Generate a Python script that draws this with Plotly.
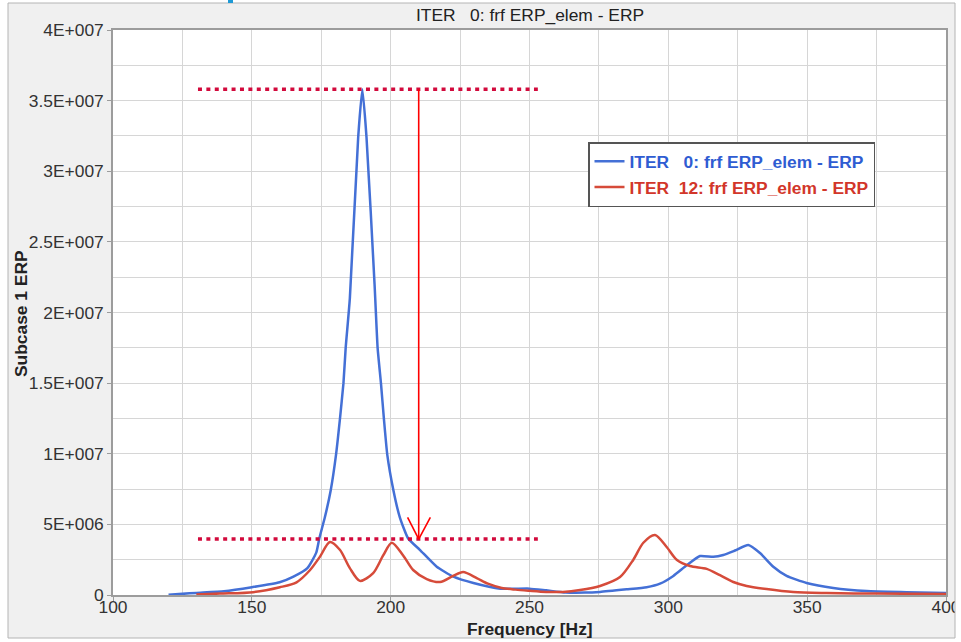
import plotly.graph_objects as go

# ---------------- data ----------------
freq_iter0 = [120, 125, 130, 140, 150, 160, 165, 170, 173.2, 174.3, 176.3, 178.4, 180.3, 181.7,
              183, 183.8, 185.3, 188.3, 189.8, 191.3, 194.2, 195.3, 196.5, 197.6, 198.8, 201,
              203.3, 206.3, 210.5, 216.6, 222.6, 229.8, 239.5, 250, 256, 263, 270, 275.4, 285,
              292.2, 297, 301.8, 306.6, 311.4, 316.2, 319.8, 324, 328.8, 333, 337.8, 342.6,
              349.8, 359.4, 371.4, 385.8, 400]
erp_iter0 = [0.02e6, 0.08e6, 0.15e6, 0.27e6, 0.55e6, 0.9e6, 1.3e6, 1.9e6, 3.0e6, 4.0e6, 5.5e6,
             7.4e6, 9.9e6, 12.4e6, 15.0e6, 17.5e6, 21.0e6, 32.4e6, 35.8e6, 32.4e6, 22.0e6,
             17.5e6, 15.0e6, 12.4e6, 9.9e6, 7.4e6, 5.5e6, 4.0e6, 3.2e6, 2.0e6, 1.3e6, 0.85e6,
             0.45e6, 0.45e6, 0.33e6, 0.18e6, 0.17e6, 0.22e6, 0.4e6, 0.55e6, 0.8e6, 1.35e6,
             2.1e6, 2.76e6, 2.7e6, 2.83e6, 3.15e6, 3.54e6, 2.97e6, 2.0e6, 1.35e6, 0.85e6,
             0.5e6, 0.28e6, 0.2e6, 0.14e6]

freq_iter12 = [130, 138.5, 150.5, 160.1, 166.1, 170.9, 174.5, 178.1, 181.7, 185.3, 188.9, 193.7,
               197.3, 200.4, 204.5, 208.1, 213, 217.8, 222.5, 226.1, 231, 235, 240, 245, 250,
               256, 262, 268.2, 275.4, 282.6, 287.4, 291, 295.2, 299.4, 303, 307.8, 313.8,
               318.6, 323.4, 328.2, 335.4, 345, 357, 375, 400]
erp_iter12 = [0.03e6, 0.1e6, 0.2e6, 0.55e6, 0.9e6, 1.75e6, 2.7e6, 3.75e6, 3.2e6, 1.9e6, 1.0e6,
              1.55e6, 2.8e6, 3.7e6, 2.8e6, 1.77e6, 1.13e6, 0.92e6, 1.35e6, 1.63e6, 1.2e6,
              0.8e6, 0.5e6, 0.38e6, 0.3e6, 0.22e6, 0.22e6, 0.35e6, 0.64e6, 1.27e6, 2.5e6,
              3.7e6, 4.25e6, 3.4e6, 2.5e6, 2.05e6, 1.85e6, 1.4e6, 0.92e6, 0.64e6, 0.42e6,
              0.21e6, 0.14e6, 0.1e6, 0.07e6]

series_names = ["ITER\u00a0\u00a0\u00a00: frf ERP_elem - ERP",
                "ITER\u00a0\u00a012: frf ERP_elem - ERP"]

x_ticks = [100, 150, 200, 250, 300, 350, 400]
x_ticklabels = ["100", "150", "200", "250", "300", "350", "400"]
y_ticks = [0, 5e6, 10e6, 15e6, 20e6, 25e6, 30e6, 35e6, 40e6]
y_ticklabels = ["0", "5E+006", "1E+007", "1.5E+007", "2E+007", "2.5E+007", "3E+007",
                "3.5E+007", "4E+007"]

# annotation markers (peak level, reduced level, arrow position)
peak_level = 3.58e7
reduced_level = 3.96e6
ref_line_x = [130.6, 253]
arrow_x = 210.1

# ---------------- layout geometry ----------------
W, H = 961, 642
L, R, T, B = 113, 15, 30, 47
PW, PH = W - L - R, H - T - B


def px(x):
    return (x - L) / PW


def py(y):
    return (H - B - y) / PH


FONT = "Arial, 'Liberation Sans', sans-serif"
FS = 17.4
BLUE = "#4470d6"
RED = "#d64b3a"

fig = go.Figure()
fig.add_trace(go.Scatter(
    x=freq_iter0, y=erp_iter0, mode="lines",
    line=dict(color=BLUE, width=2.5, shape="spline", smoothing=0.5),
    name="<span style='color:#2f5cd2'>" + series_names[0] + "</span>"))
fig.add_trace(go.Scatter(
    x=freq_iter12, y=erp_iter12, mode="lines",
    line=dict(color=RED, width=2.5, shape="spline", smoothing=0.8),
    name="<span style='color:#d2362a'>" + series_names[1] + "</span>"))

shapes = []
# outer white margins and panel border
shapes += [
    dict(type="rect", xref="paper", yref="paper", x0=px(0), x1=px(8), y0=py(H), y1=py(0),
         fillcolor="white", line_width=0),
    dict(type="rect", xref="paper", yref="paper", x0=px(955), x1=px(W), y0=py(H), y1=py(0),
         fillcolor="white", line_width=0),
    dict(type="rect", xref="paper", yref="paper", x0=px(0), x1=px(W), y0=py(3), y1=py(0),
         fillcolor="white", line_width=0),
    dict(type="rect", xref="paper", yref="paper", x0=px(0), x1=px(W), y0=py(H), y1=py(638),
         fillcolor="white", line_width=0),
    dict(type="rect", xref="paper", yref="paper", x0=px(8), x1=px(955), y0=py(638), y1=py(3),
         fillcolor="rgba(0,0,0,0)", line=dict(color="#b4b4b4", width=1)),
    dict(type="rect", xref="paper", yref="paper", x0=px(228), x1=px(233), y0=py(3), y1=py(0),
         fillcolor="#1e9ad6", line_width=0),
]
# dotted reference lines
for lvl in (peak_level, reduced_level):
    shapes.append(dict(type="line", xref="x", yref="y", x0=ref_line_x[0], x1=ref_line_x[1],
                       y0=lvl, y1=lvl, layer="above",
                       line=dict(color="#d20a3c", width=3.5, dash="4px,4.4px")))
# arrow
shapes.append(dict(type="line", xref="x", yref="y", x0=arrow_x, x1=arrow_x,
                   y0=peak_level, y1=reduced_level, layer="above",
                   line=dict(color="#ff0000", width=1.6)))
shapes.append(dict(type="line", xref="x", yref="y", x0=arrow_x - 4.0, x1=arrow_x,
                   y0=5.5e6, y1=reduced_level, layer="above",
                   line=dict(color="#ff0000", width=1.6)))
shapes.append(dict(type="line", xref="x", yref="y", x0=arrow_x + 4.2, x1=arrow_x,
                   y0=5.5e6, y1=reduced_level, layer="above",
                   line=dict(color="#ff0000", width=1.6)))

annotations = [
    dict(text="ITER\u00a0\u00a0\u00a00: frf ERP_elem - ERP", x=0.5, y=py(15), xref="paper",
         yref="paper", showarrow=False, xanchor="center", yanchor="middle",
         font=dict(family=FONT, size=FS, color="#222")),
    dict(text="<b>Frequency [Hz]</b>", x=0.5, y=py(629), xref="paper", yref="paper",
         showarrow=False, xanchor="center", yanchor="middle",
         font=dict(family=FONT, size=FS, color="#222")),
    dict(text="<b>Subcase 1 ERP</b>", x=px(21), y=py(314), xref="paper", yref="paper",
         showarrow=False, xanchor="center", yanchor="middle", textangle=-90,
         font=dict(family=FONT, size=FS, color="#222")),
]

axis_common = dict(showline=True, linecolor="#9c9c9c", linewidth=1.5, mirror=True,
                   ticks="outside", ticklen=4, tickcolor="#9c9c9c", tickwidth=1,
                   showgrid=True, gridcolor="#d6d6d6", gridwidth=1.2, zeroline=False,
                   automargin=False,
                   tickfont=dict(family=FONT, size=FS, color="#333"))

fig.update_layout(
    width=W, height=H, autosize=False,
    margin=dict(l=L, r=R, t=T, b=B, pad=0),
    paper_bgcolor="#f0f0f0", plot_bgcolor="white",
    shapes=shapes, annotations=annotations,
    showlegend=True,
    legend=dict(x=px(588), y=py(142), xanchor="left", yanchor="top",
                bgcolor="white", bordercolor="#555", borderwidth=1.5,
                font=dict(family=FONT, size=FS, weight="bold"),
                traceorder="normal"),
    xaxis=dict(range=[100, 400], tickmode="array", tickvals=x_ticks, ticktext=x_ticklabels,
               ticklabelstandoff=-9,
               minor=dict(tickmode="linear", tick0=100, dtick=25, showgrid=True,
                          gridcolor="#d6d6d6", gridwidth=1.2, ticks=""),
               **axis_common),
    yaxis=dict(range=[0, 4e7], tickmode="array", tickvals=y_ticks, ticktext=y_ticklabels,
               minor=dict(tickmode="linear", tick0=0, dtick=2.5e6, showgrid=True,
                          gridcolor="#d6d6d6", gridwidth=1.2, ticks=""),
               **axis_common),
)

fig.write_html("out.html", config={"displayModeBar": False},
               post_script="document.body.style.margin='0';document.body.style.padding='0';")
